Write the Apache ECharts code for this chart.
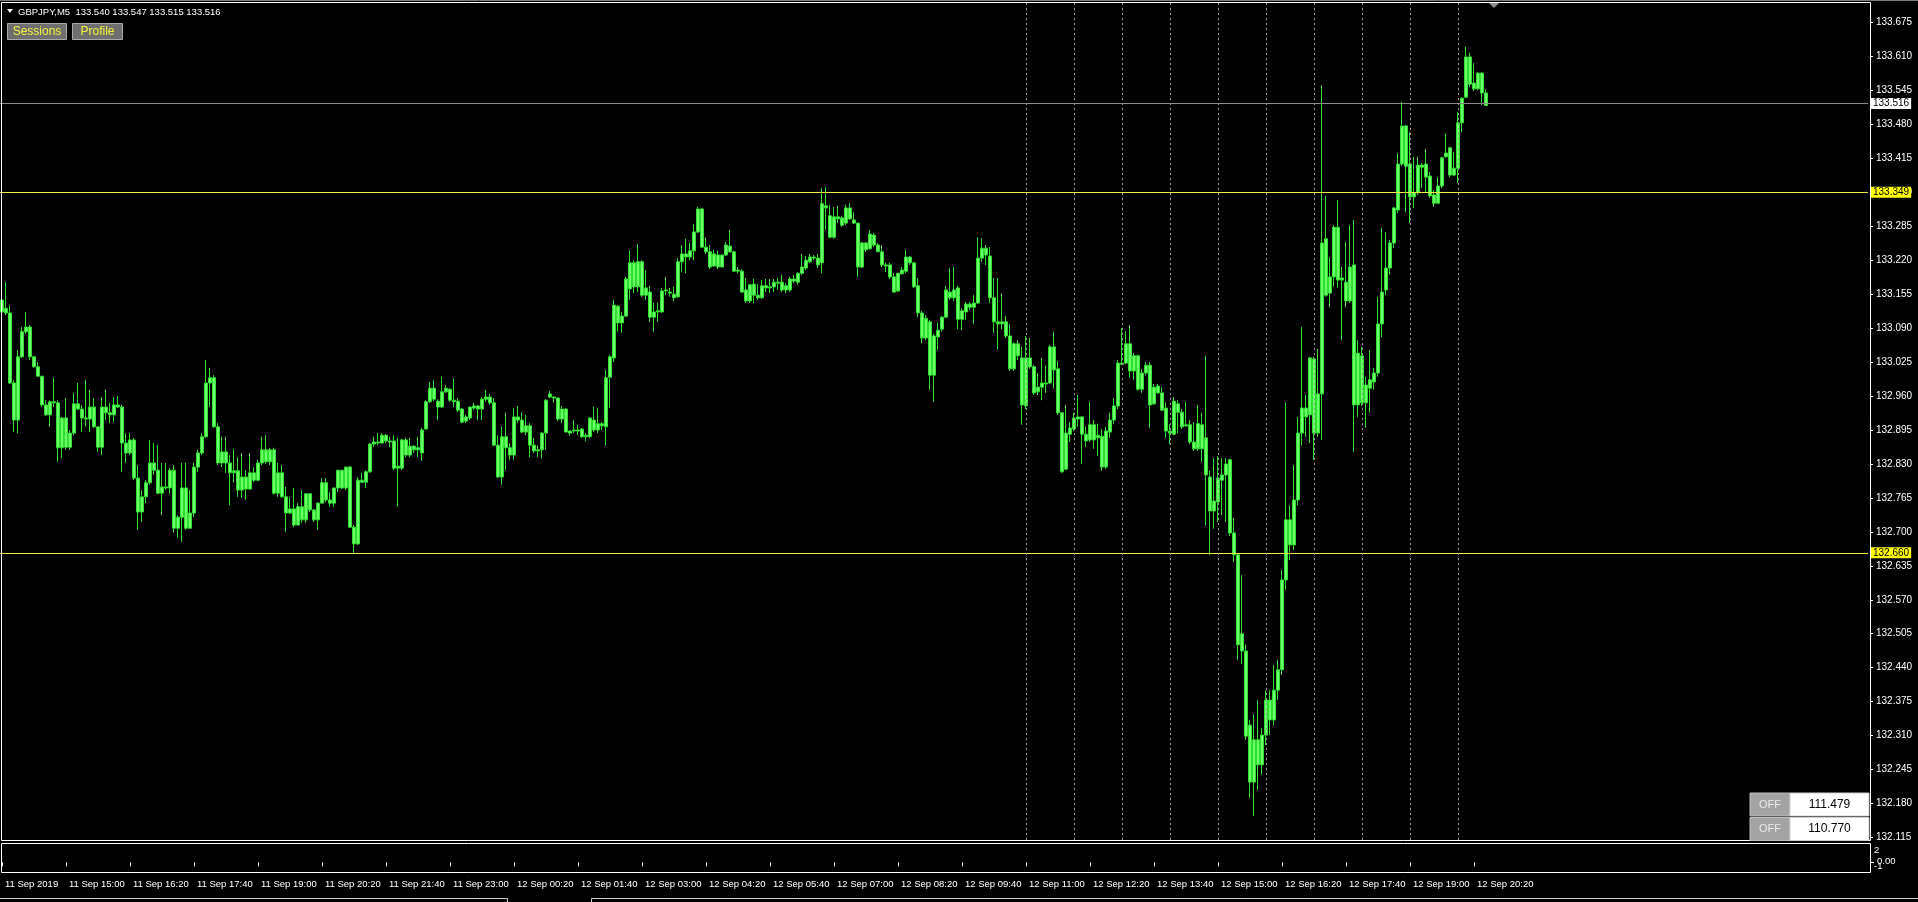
<!DOCTYPE html>
<html><head><meta charset="utf-8">
<script src="https://cdn.jsdelivr.net/npm/echarts@6/dist/echarts.min.js"></script>
<style>html,body{margin:0;padding:0;background:#000;overflow:hidden}#c{width:1918px;height:902px}</style>
</head><body><div id="c"></div>
<script>
const symbol = 'GBPJPY,M5';
const totalSlots = 467;           // bars + chart-shift space
const firstBarMinutes = 13 * 60 + 40; // 11 Sep 13:40
const firstDay = 11;

const open = [
133.144,133.128,133.119,132.985,132.914,133.035,133.083,133.092,133.035,133.016,132.998,132.943,132.924,132.949,132.947,132.861,
132.918,132.862,132.889,132.945,132.935,132.918,132.916,132.939,132.901,132.862,132.939,132.928,132.924,132.943,132.939,132.870,
132.851,132.876,132.803,132.738,132.767,132.794,132.832,132.818,132.774,132.786,132.784,132.818,132.707,132.728,132.784,132.707,
132.736,132.824,132.851,132.882,132.985,132.995,132.901,132.832,132.853,132.832,132.813,132.817,132.780,132.805,132.782,132.813,
132.799,132.832,132.857,132.834,132.857,132.774,132.813,132.767,132.736,132.744,132.713,132.748,132.723,132.773,132.742,132.723,
132.755,132.794,132.761,132.755,132.784,132.818,132.784,132.824,132.709,132.677,132.799,132.795,132.815,132.868,132.872,132.870,
132.885,132.874,132.874,132.822,132.822,132.876,132.847,132.864,132.857,132.851,132.897,132.949,132.975,132.950,132.939,132.968,
132.973,132.952,132.950,132.935,132.912,132.918,132.937,132.941,132.935,132.954,132.958,132.947,132.866,132.805,132.882,132.861,
132.847,132.920,132.914,132.891,132.903,132.866,132.855,132.857,132.889,132.958,132.958,132.956,132.916,132.935,132.893,132.893,
132.895,132.897,132.885,132.882,132.914,132.895,132.903,132.901,132.996,133.033,133.132,133.100,133.113,133.165,133.215,133.169,
133.217,133.153,133.159,133.111,133.121,133.121,133.161,133.159,133.155,133.150,133.217,133.226,133.226,133.238,133.274,133.318,
133.245,133.236,133.209,133.230,133.207,133.230,133.247,133.236,133.199,133.199,133.163,133.142,133.174,133.153,133.148,133.171,
133.169,133.169,133.178,133.178,133.171,133.163,133.184,133.178,133.195,133.205,133.217,133.226,133.224,133.215,133.324,133.305,
133.264,133.303,133.301,133.291,133.320,133.297,133.291,133.207,133.253,133.242,133.268,133.249,133.236,133.211,133.211,133.188,
133.161,133.194,133.199,133.226,133.215,133.171,133.119,133.071,133.102,133.000,133.073,133.088,133.111,133.159,133.148,133.167,
133.107,133.121,133.136,133.130,133.138,133.224,133.230,133.228,133.148,133.102,133.102,133.102,133.075,133.012,133.060,133.033,
132.941,133.033,133.016,132.968,132.977,132.985,132.985,133.054,133.012,132.928,132.820,132.887,132.897,132.916,132.920,132.887,
132.876,132.905,132.880,132.883,132.824,132.891,132.914,132.941,133.023,133.023,133.060,133.008,133.037,132.973,133.004,133.019,
132.945,132.979,132.966,132.937,132.893,132.887,132.945,132.929,132.905,132.905,132.872,132.859,132.905,132.880,132.805,132.740,
132.757,132.799,132.809,132.838,132.698,132.656,132.472,132.472,132.330,132.221,132.302,132.254,132.311,132.378,132.340,132.397,
132.436,132.608,132.723,132.675,132.761,132.889,132.937,132.924,133.031,132.889,132.964,133.261,133.157,133.188,133.283,133.182,
133.178,133.142,133.211,132.943,133.037,132.947,132.975,132.987,133.004,133.098,133.163,133.205,133.253,133.316,133.404,133.477,
133.404,133.341,133.349,133.402,133.404,133.381,133.345,133.329,133.362,133.418,133.435,133.383,133.396,133.483,133.532,133.609,
133.559,133.548,133.578,133.540];

const close = [
133.121,133.119,132.985,132.914,133.035,133.083,133.092,133.035,133.016,132.998,132.943,132.924,132.949,132.947,132.861,132.918,
132.862,132.889,132.945,132.935,132.918,132.916,132.939,132.901,132.862,132.939,132.928,132.924,132.943,132.939,132.870,132.851,
132.876,132.803,132.738,132.767,132.794,132.832,132.818,132.774,132.786,132.784,132.818,132.707,132.728,132.784,132.707,132.736,
132.824,132.851,132.882,132.985,132.995,132.901,132.832,132.853,132.832,132.813,132.817,132.780,132.805,132.782,132.813,132.799,
132.832,132.857,132.834,132.857,132.774,132.813,132.767,132.736,132.744,132.713,132.748,132.723,132.773,132.742,132.723,132.755,
132.794,132.761,132.755,132.784,132.818,132.784,132.824,132.709,132.677,132.799,132.795,132.815,132.868,132.872,132.870,132.885,
132.874,132.872,132.822,132.826,132.876,132.847,132.864,132.857,132.861,132.895,132.949,132.975,132.954,132.939,132.968,132.975,
132.952,132.949,132.933,132.910,132.920,132.939,132.941,132.935,132.954,132.958,132.947,132.866,132.805,132.882,132.861,132.847,
132.920,132.914,132.891,132.903,132.866,132.855,132.857,132.889,132.952,132.964,132.956,132.916,132.935,132.891,132.889,132.895,
132.893,132.882,132.882,132.918,132.895,132.907,132.907,132.995,133.035,133.134,133.100,133.113,133.184,133.215,133.169,133.217,
133.153,133.167,133.111,133.121,133.123,133.161,133.163,133.157,133.148,133.217,133.232,133.232,133.238,133.274,133.318,133.245,
133.236,133.207,133.232,133.207,133.230,133.249,133.236,133.199,133.201,133.159,133.142,133.173,133.153,133.148,133.171,133.167,
133.167,133.178,133.176,133.163,133.163,133.184,133.180,133.195,133.207,133.220,133.226,133.224,133.211,133.328,133.320,133.264,
133.303,133.299,133.287,133.320,133.299,133.291,133.207,133.253,133.240,133.270,133.249,133.236,133.211,133.209,133.188,133.159,
133.195,133.201,133.226,133.215,133.169,133.119,133.071,133.109,133.000,133.075,133.086,133.111,133.163,133.148,133.163,133.107,
133.123,133.136,133.130,133.138,133.224,133.243,133.243,133.148,133.102,133.098,133.098,133.075,133.012,133.060,133.037,132.943,
133.033,133.016,132.966,132.977,132.985,132.983,133.054,133.010,132.928,132.815,132.889,132.899,132.918,132.920,132.887,132.874,
132.905,132.876,132.885,132.824,132.893,132.914,132.941,133.023,133.021,133.060,133.008,133.037,132.973,133.004,133.019,132.943,
132.977,132.966,132.933,132.893,132.889,132.950,132.929,132.901,132.903,132.872,132.859,132.907,132.859,132.809,132.740,132.759,
132.803,132.809,132.830,132.698,132.656,132.484,132.505,132.309,132.221,132.302,132.254,132.311,132.378,132.340,132.397,132.436,
132.608,132.723,132.675,132.761,132.889,132.937,132.920,133.033,132.889,132.964,133.253,133.153,133.188,133.283,133.182,133.186,
133.142,133.207,132.943,133.042,132.947,132.981,132.991,133.004,133.098,133.159,133.205,133.253,133.320,133.404,133.477,133.400,
133.341,133.349,133.402,133.398,133.379,133.343,133.329,133.362,133.416,133.425,133.383,133.396,133.483,133.530,133.609,133.557,
133.548,133.578,133.540,133.516];

const low = [
133.117,133.115,132.983,132.891,132.889,133.033,133.079,133.029,133.014,132.997,132.939,132.922,132.901,132.939,132.834,132.841,
132.857,132.857,132.885,132.933,132.891,132.901,132.891,132.899,132.853,132.847,132.914,132.908,132.910,132.937,132.815,132.832,
132.847,132.799,132.704,132.719,132.755,132.790,132.809,132.772,132.732,132.780,132.774,132.698,132.688,132.681,132.704,132.707,
132.728,132.815,132.847,132.880,132.939,132.899,132.828,132.824,132.813,132.751,132.794,132.767,132.765,132.761,132.780,132.795,
132.797,132.828,132.830,132.828,132.771,132.767,132.765,132.700,132.734,132.709,132.713,132.717,132.717,132.738,132.719,132.704,
132.755,132.757,132.748,132.748,132.776,132.782,132.780,132.707,132.660,132.675,132.794,132.784,132.813,132.862,132.866,132.870,
132.870,132.862,132.818,132.748,132.818,132.843,132.843,132.851,132.843,132.836,132.895,132.947,132.950,132.914,132.937,132.966,
132.949,132.939,132.929,132.908,132.908,132.914,132.933,132.914,132.914,132.949,132.943,132.864,132.803,132.790,132.818,132.838,
132.838,132.908,132.889,132.885,132.843,132.851,132.843,132.840,132.857,132.956,132.947,132.912,132.908,132.891,132.884,132.889,
132.885,132.880,132.874,132.880,132.891,132.889,132.895,132.866,132.937,133.025,133.083,133.081,133.111,133.144,133.157,133.159,
133.150,133.144,133.102,133.083,133.102,133.119,133.153,133.150,133.142,133.148,133.197,133.195,133.220,133.220,133.272,133.243,
133.232,133.203,133.207,133.203,133.207,133.228,133.234,133.197,133.195,133.157,133.138,133.138,133.138,133.144,133.146,133.159,
133.157,133.159,133.163,133.159,133.157,133.159,133.176,133.173,133.192,133.201,133.215,133.220,133.205,133.195,133.278,133.262,
133.261,133.291,133.284,133.287,133.297,133.289,133.188,133.205,133.236,133.240,133.245,133.236,133.207,133.197,133.184,133.157,
133.159,133.192,133.195,133.211,133.167,133.111,133.061,133.067,132.972,132.949,133.048,133.083,133.109,133.144,133.142,133.088,
133.086,133.106,133.125,133.098,133.136,133.217,133.211,133.138,133.081,133.050,133.088,133.071,133.008,133.008,133.029,132.905,
132.935,133.012,132.962,132.962,132.952,132.966,132.983,132.974,132.924,132.813,132.818,132.872,132.893,132.901,132.830,132.862,
132.872,132.859,132.845,132.817,132.820,132.880,132.906,132.935,133.019,133.021,132.995,132.991,132.970,132.966,133.000,132.899,
132.943,132.964,132.931,132.880,132.868,132.885,132.889,132.897,132.901,132.868,132.855,132.855,132.834,132.713,132.656,132.706,
132.719,132.732,132.719,132.692,132.642,132.455,132.447,132.302,132.191,132.156,132.206,132.235,132.292,132.311,132.330,132.378,
132.426,132.589,132.646,132.665,132.751,132.866,132.882,132.870,132.838,132.882,132.876,133.150,133.130,133.169,133.167,133.067,
133.130,133.138,132.853,132.920,132.941,132.899,132.928,132.972,132.997,133.073,133.153,133.192,133.243,133.310,133.400,133.312,
133.291,133.320,133.345,133.358,133.349,133.339,133.322,133.329,133.358,133.416,133.379,133.381,133.368,133.465,133.530,133.551,
133.544,133.546,133.517,133.515];

const high = [
133.188,133.178,133.134,132.991,133.048,133.092,133.121,133.096,133.037,133.025,132.998,132.952,132.952,132.995,132.952,132.920,
132.956,132.895,132.966,132.985,132.943,132.991,132.972,132.956,132.901,132.958,132.973,132.947,132.958,132.960,132.943,132.889,
132.889,132.880,132.828,132.780,132.799,132.876,132.870,132.866,132.832,132.832,132.822,132.828,132.732,132.832,132.832,132.780,
132.832,132.857,132.889,133.029,133.014,133.000,132.908,132.882,132.882,132.847,132.859,132.843,132.851,132.818,132.851,132.824,
132.838,132.882,132.885,132.861,132.861,132.832,132.828,132.786,132.767,132.784,132.755,132.780,132.774,132.773,132.744,132.757,
132.803,132.803,132.776,132.784,132.818,132.818,132.824,132.826,132.713,132.805,132.813,132.818,132.870,132.882,132.889,132.889,
132.887,132.882,132.885,132.880,132.878,132.880,132.880,132.866,132.882,132.899,132.952,132.987,132.991,132.954,132.997,132.981,
132.975,132.993,132.956,132.937,132.924,132.939,132.947,132.943,132.958,132.972,132.964,132.956,132.885,132.901,132.928,132.870,
132.937,132.941,132.929,132.924,132.908,132.880,132.866,132.891,132.954,132.970,132.960,132.958,132.941,132.937,132.895,132.914,
132.905,132.899,132.889,132.918,132.939,132.937,132.910,133.010,133.039,133.144,133.134,133.121,133.188,133.238,133.220,133.251,
133.220,133.201,133.171,133.138,133.138,133.167,133.188,133.167,133.169,133.224,133.249,133.261,133.253,133.289,133.322,133.320,
133.264,133.249,133.240,133.238,133.230,133.255,133.278,133.238,133.207,133.203,133.186,133.174,133.184,133.174,133.182,133.184,
133.184,133.184,133.186,133.192,133.176,133.188,133.192,133.197,133.232,133.228,133.232,133.230,133.232,133.358,133.360,133.326,
133.322,133.324,133.305,133.326,133.329,133.312,133.291,133.255,133.255,133.278,133.272,133.253,133.249,133.215,133.215,133.195,
133.195,133.207,133.240,133.228,133.215,133.186,133.123,133.115,133.106,133.079,133.100,133.113,133.171,133.205,133.207,133.171,
133.128,133.140,133.140,133.153,133.264,133.262,133.249,133.245,133.186,133.186,133.157,133.113,133.098,133.063,133.067,133.054,
133.075,133.071,133.019,133.004,133.033,133.019,133.058,133.083,133.027,132.928,132.943,132.910,132.928,132.962,132.922,132.901,
132.949,132.914,132.907,132.897,132.901,132.928,132.956,133.029,133.090,133.084,133.096,133.042,133.039,133.012,133.025,133.025,
132.983,132.983,132.977,132.947,132.906,132.958,132.952,132.935,132.949,132.914,132.910,132.943,132.928,133.037,132.817,132.841,
132.845,132.841,132.841,132.840,132.727,132.656,132.617,132.484,132.340,132.350,132.378,132.325,132.397,132.397,132.445,132.455,
132.627,132.947,132.751,132.828,132.920,133.092,132.962,133.035,133.035,133.050,133.555,133.343,133.226,133.287,133.335,133.207,
133.255,133.287,133.297,133.067,133.054,132.997,133.048,133.014,133.150,133.282,133.274,133.259,133.322,133.425,133.523,133.479,
133.465,133.418,133.418,133.406,133.433,133.389,133.354,133.379,133.418,133.463,133.437,133.427,133.504,133.532,133.628,133.617,
133.597,133.580,133.580,133.547];

const xTickLabels = ['11 Sep 2019','11 Sep 15:00','11 Sep 16:20','11 Sep 17:40','11 Sep 19:00','11 Sep 20:20',
  '11 Sep 21:40','11 Sep 23:00','12 Sep 00:20','12 Sep 01:40','12 Sep 03:00','12 Sep 04:20','12 Sep 05:40',
  '12 Sep 07:00','12 Sep 08:20','12 Sep 09:40','12 Sep 11:00','12 Sep 12:20','12 Sep 13:40','12 Sep 15:00',
  '12 Sep 16:20','12 Sep 17:40','12 Sep 19:00','12 Sep 20:20'];
const xTickStep = 16;

const priceTicks = [133.675,133.610,133.545,133.480,133.415,133.350,133.285,133.220,133.155,133.090,133.025,
  132.960,132.895,132.830,132.765,132.700,132.635,132.570,132.505,132.440,132.375,132.310,132.245,132.180,132.115];
const priceMin = 132.1102, priceMax = 133.7123;

const bidPrice = 133.516;
const levelLines = [133.349, 132.660];
const sessionLines = ['12 Sep 11:00','12 Sep 12:00','12 Sep 13:00','12 Sep 14:00','12 Sep 15:00',
  '12 Sep 16:00','12 Sep 17:00','12 Sep 18:00','12 Sep 19:00','12 Sep 20:00'];
const offValues = ['111.479','110.770'];
const subLabels = ['2','0.00','-1'];

// categories (bar times)
const pad = n => String(n).padStart(2, '0');
const categories = [];
for (let i = 0; i < totalSlots; i++) {
  const m = firstBarMinutes + 5 * i;
  const d = firstDay + Math.floor(m / 1440), mm = m % 1440;
  categories.push(d + ' Sep ' + pad(Math.floor(mm / 60)) + ':' + pad(mm % 60));
}
const candles = open.map((o, i) => [o, close[i], low[i], high[i]]);
const nBars = candles.length;
const lastO = open[nBars - 1], lastH = high[nBars - 1], lastL = low[nBars - 1], lastC = close[nBars - 1];

const FONT = 'Liberation Sans';
const tickShown = idx => idx % xTickStep === 0 && idx / xTickStep < xTickLabels.length && idx < nBars;

const chart = echarts.init(document.getElementById('c'), null, {renderer: 'canvas'});

const hLabel = (bg, val) => ({
  show: true, position: 'end', distance: 3,
  formatter: () => val.toFixed(3),
  backgroundColor: bg, color: '#000', fontSize: 10, fontFamily: FONT,
  padding: [1, 2, 0, 2], lineHeight: 10
});

const markData = [
  {yAxis: bidPrice, lineStyle: {color: '#8a8a8a', width: 1, type: 'solid'}, label: hLabel('#ffffff', bidPrice)},
  ...levelLines.map(v => ({yAxis: v, lineStyle: {color: '#eeee44', width: 1, type: 'solid'}, label: hLabel('#ffff00', v)})),
  ...sessionLines.map(t => ({xAxis: t, lineStyle: {color: '#9a9a9a', width: 1, type: [2, 3]}, label: {show: false}}))
];

const gfx = [
  {type: 'line', shape: {x1: 0, y1: 0.5, x2: 1918, y2: 0.5}, style: {stroke: '#7a7a7a', lineWidth: 1}},
  {type: 'rect', shape: {x: 1.5, y: 2.5, width: 1869, height: 838}, style: {fill: 'none', stroke: '#ffffff', lineWidth: 1}, z: 100},
  {type: 'rect', shape: {x: 1.5, y: 843.5, width: 1869, height: 29}, style: {fill: 'none', stroke: '#ffffff', lineWidth: 1}, z: 100},
  // header
  {type: 'polygon', shape: {points: [[7, 9], [13, 9], [10, 13]]}, style: {fill: '#ffffff'}},
  {type: 'text', x: 18, y: 12, style: {text: symbol + '  ' + [lastO, lastH, lastL, lastC].map(v => v.toFixed(3)).join(' '),
     fill: '#ffffff', font: '9.5px ' + FONT, verticalAlign: 'middle'}},
  {type: 'rect', shape: {x: 7.5, y: 23.5, width: 59, height: 16}, style: {fill: '#6f6f6f', stroke: '#a8a8a8', lineWidth: 1}},
  {type: 'text', x: 37, y: 32, style: {text: 'Sessions', fill: '#f2f23c', font: '12px ' + FONT, align: 'center', verticalAlign: 'middle'}},
  {type: 'rect', shape: {x: 72.5, y: 23.5, width: 50, height: 16}, style: {fill: '#6f6f6f', stroke: '#a8a8a8', lineWidth: 1}},
  {type: 'text', x: 97.5, y: 32, style: {text: 'Profile', fill: '#f2f23c', font: '12px ' + FONT, align: 'center', verticalAlign: 'middle'}},
  // chart shift marker
  {type: 'polygon', shape: {points: [[1489, 3], [1499, 3], [1494, 8]]}, style: {fill: '#8f8f8f'}},
  // sub-window scale
  {type: 'text', x: 1874, y: 850, style: {text: subLabels[0], fill: '#fff', font: '9.5px ' + FONT, verticalAlign: 'middle'}},
  {type: 'text', x: 1877, y: 861, style: {text: subLabels[1], fill: '#fff', font: '9.5px ' + FONT, verticalAlign: 'middle'}},
  {type: 'text', x: 1874, y: 866, style: {text: subLabels[2], fill: '#fff', font: '9.5px ' + FONT, verticalAlign: 'middle'}},
  {type: 'line', shape: {x1: 1871, y1: 862.5, x2: 1874, y2: 862.5}, style: {stroke: '#fff', lineWidth: 1}},
  // bottom tabs
  {type: 'polyline', shape: {points: [[0, 898.5], [507.5, 898.5], [507.5, 902]]}, style: {stroke: '#d0d0d0', lineWidth: 1, fill: 'none'}},
  {type: 'polyline', shape: {points: [[591.5, 902], [591.5, 898.5], [1918, 898.5]]}, style: {stroke: '#d0d0d0', lineWidth: 1, fill: 'none'}}
];
offValues.forEach((v, k) => {
  const y = 793 + k * 24.5;
  gfx.push({type: 'rect', shape: {x: 1750, y: y, width: 40, height: 23}, style: {fill: '#a3a3a3', stroke: '#bdbdbd', lineWidth: 1}, z: 110});
  gfx.push({type: 'text', x: 1770, y: y + 11.5, style: {text: 'OFF', fill: '#e8e8e8', font: '11px ' + FONT, align: 'center', verticalAlign: 'middle'}, z: 111});
  gfx.push({type: 'rect', shape: {x: 1790, y: y, width: 79, height: 23}, style: {fill: '#ffffff', stroke: '#cfcfcf', lineWidth: 1}, z: 110});
  gfx.push({type: 'text', x: 1829.5, y: y + 11.5, style: {text: v, fill: '#000', font: '12px ' + FONT, align: 'center', verticalAlign: 'middle'}, z: 111});
});

chart.setOption({
  backgroundColor: '#000000',
  animation: false,
  textStyle: {fontFamily: FONT},
  grid: [
    {left: 0, top: 3, width: 1868, height: 837},
    {left: 0, top: 843, width: 1868, height: 29}
  ],
  xAxis: [
    {type: 'category', gridIndex: 0, data: categories, boundaryGap: true,
     axisLine: {show: false}, axisTick: {show: false}, axisLabel: {show: false}, splitLine: {show: false}},
    {type: 'category', gridIndex: 1, data: categories, boundaryGap: true, position: 'bottom',
     axisLine: {show: false}, splitLine: {show: false},
     axisTick: {show: true, alignWithLabel: true, length: 4, interval: tickShown, lineStyle: {color: '#ffffff', width: 1}},
     axisLabel: {show: true, interval: tickShown, align: 'left', margin: 7, padding: [0, 0, 0, 3],
       color: '#ffffff', fontSize: 9.5, fontFamily: FONT,
       formatter: (v, i) => tickShown(i) ? xTickLabels[i / xTickStep] : ''}}
  ],
  yAxis: [
    {type: 'value', gridIndex: 0, position: 'right', offset: 2, min: priceMin, max: priceMax,
     axisLine: {show: false}, splitLine: {show: false},
     axisTick: {show: true, length: 3, customValues: priceTicks, lineStyle: {color: '#ffffff'}},
     axisLabel: {show: true, customValues: priceTicks, margin: 6, color: '#ffffff', fontSize: 10, fontFamily: FONT,
       formatter: v => Number(v).toFixed(3)}},
    {type: 'value', gridIndex: 1, min: -1, max: 2, show: false}
  ],
  series: [{
    type: 'candlestick', xAxisIndex: 0, yAxisIndex: 0, data: candles, barWidth: 3,
    itemStyle: {color: '#6cff6c', color0: '#6cff6c', borderColor: '#2fe02f', borderColor0: '#2fe02f', borderWidth: 1},
    markLine: {silent: true, symbol: ['none', 'none'], animation: false, data: markData}
  }],
  graphic: {elements: gfx}
});
</script></body></html>
